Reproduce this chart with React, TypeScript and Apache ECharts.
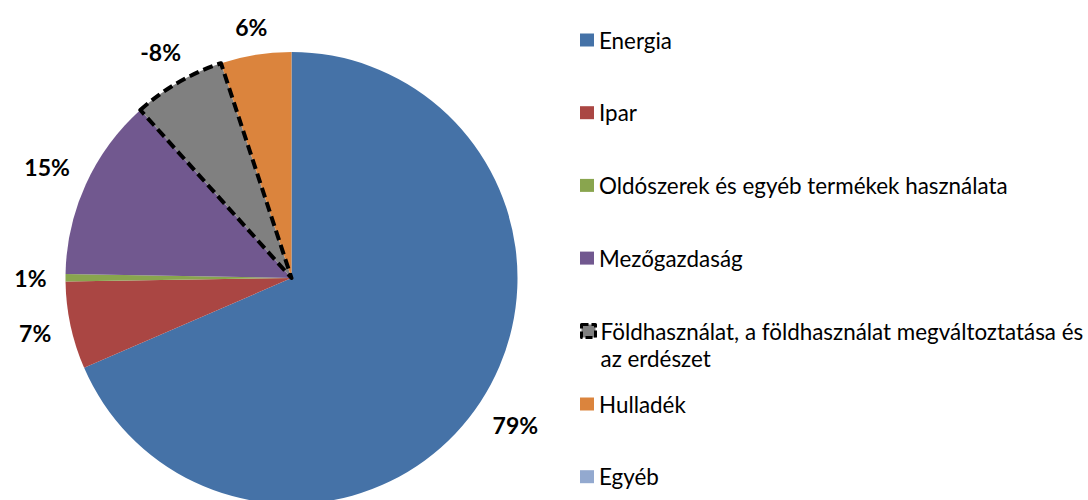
import React, { useEffect, useRef } from "react";
import * as echarts from "echarts";

const categories = [
  "Energia",
  "Ipar",
  "Oldószerek és egyéb termékek használata",
  "Mezőgazdaság",
  "Földhasználat, a földhasználat megváltoztatása és az erdészet",
  "Hulladék",
  "Egyéb",
];
// net emissions (land use is a sink, hence negative)
const netEmissions = [78.7, 7.2, 0.6, 15.0, -7.6, 5.8, 0];
const colors = ["#4572A7", "#AA4643", "#89A54E", "#71588F", "#808080", "#DB843D", "#93A9CF"];

const legendGroupA = categories.slice(0, 4);
const legendGroupB = categories.slice(4, 5);
const legendGroupC = categories.slice(5);

const FONT = "Lato, 'Open Sans', sans-serif";
const CENTER: [number, number] = [291.5, 278];
const RADIUS = 226;

export default function App() {
  const ref = useRef<HTMLDivElement>(null);
  useEffect(() => {
    if (!ref.current) return;
    const chart = echarts.init(ref.current, undefined, { renderer: "svg" });
    const net = netEmissions.reduce((a, b) => a + b, 0);
    const absVals = netEmissions.map((v) => Math.abs(v));
    const absTotal = absVals.reduce((a, b) => a + b, 0);
    const pct = (i: number) => Math.round((netEmissions[i] / net) * 100) + "%";
    const midAngle = (i: number) => {
      let cum = 0;
      for (let k = 0; k < i; k++) cum += absVals[k];
      return ((cum + absVals[i] / 2) / absTotal) * Math.PI * 2; // clockwise from top
    };
    const textStyle = { fontFamily: FONT, fontSize: 22.4, color: "#000", lineHeight: 27 };
    const baseLegend = {
      orient: "vertical" as const,
      left: 580,
      padding: 0,
      icon: "rect",
      itemWidth: 14,
      itemHeight: 13,
      itemGap: 45.7,
      selectedMode: false,
      textStyle,
    };
    chart.setOption({
      animation: false,
      backgroundColor: "#fff",
      legend: [
        { ...baseLegend, top: 26.5, data: legendGroupA },
        {
          ...baseLegend,
          top: 290.5,
          formatter: (n: string) => "\n" + n.replace(" és az ", " és\naz "),
          data: legendGroupB.map((n) => ({
            name: n,
            itemStyle: { borderWidth: 3, borderColor: "#000", borderType: [7, 3] },
          })),
        },
        { ...baseLegend, top: 390.5, data: legendGroupC },
      ],
      series: [
        {
          type: "pie",
          center: CENTER,
          radius: RADIUS,
          startAngle: 90,
          clockwise: true,
          avoidLabelOverlap: false,
          emphasis: { disabled: true },
          label: {
            show: true,
            position: "outside",
            formatter: (p: any) => pct(p.dataIndex),
            fontFamily: FONT,
            fontWeight: "bold",
            fontSize: 23,
            color: "#000",
          },
          labelLine: { show: false, length: 20, length2: 0 },
          labelLayout: (p: any) => {
            const a = midAngle(p.dataIndex);
            const dx = Math.sin(a);
            const dy = -Math.cos(a);
            const w = p.labelRect.width;
            const h = p.labelRect.height * 0.6;
            const d = RADIUS + 19 + (w / 2) * Math.abs(dx) + (h / 2) * Math.abs(dy);
            return {
              x: CENTER[0] + d * dx,
              y: CENTER[1] + d * dy,
              align: "center",
              verticalAlign: "middle",
            };
          },
          data: categories.map((n, i) => ({
            name: n,
            value: absVals[i],
            itemStyle: { color: colors[i], borderWidth: 0 },
            label: netEmissions[i] === 0 ? { show: false } : undefined,
          })),
        },
        {
          type: "pie",
          center: CENTER,
          radius: RADIUS,
          startAngle: 90,
          clockwise: true,
          silent: true,
          z: 3,
          emphasis: { disabled: true },
          label: { show: false },
          labelLine: { show: false },
          data: categories.map((n, i) => ({
            name: n,
            value: absVals[i],
            itemStyle:
              netEmissions[i] < 0
                ? { color: "rgba(0,0,0,0)", borderColor: "#000", borderWidth: 4, borderType: [10, 5] }
                : { color: "rgba(0,0,0,0)", borderWidth: 0 },
          })),
        },
      ],
    });
    return () => chart.dispose();
  }, []);
  return (
    <div
      ref={ref}
      style={{ position: "fixed", left: 0, top: 0, width: 1088, height: 500 }}
    />
  );
}
